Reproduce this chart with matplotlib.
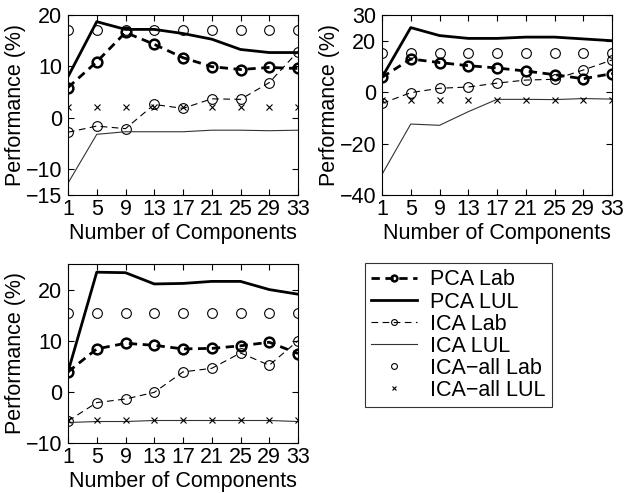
import matplotlib
matplotlib.use('Agg')
import matplotlib.pyplot as plt

plt.rcParams['font.family'] = ['Liberation Sans', 'DejaVu Sans']

comps = [1, 5, 9, 13, 17, 21, 25, 29, 33]

# panel 1 (top-left)
p1_pca_lab = [5.9, 10.9, 16.6, 14.3, 11.7, 9.95, 9.4, 9.8, 9.6]
p1_pca_lul = [8.0, 18.7, 17.2, 17.2, 16.4, 15.3, 13.3, 12.7, 12.7]
p1_ica_lab = [-2.8, -1.6, -2.1, 2.6, 1.85, 3.7, 3.6, 6.85, 12.9]
p1_ica_lul = [-12.7, -3.2, -2.7, -2.7, -2.7, -2.4, -2.4, -2.5, -2.4]
p1_all_lab = [17.1] * 9
p1_all_lul = [2.2] * 9

# panel 2 (top-right)
p2_pca_lab = [5.75, 12.9, 11.5, 10.3, 9.4, 8.2, 6.8, 5.2, 7.2]
p2_pca_lul = [5.75, 25.1, 22.0, 20.9, 20.9, 21.4, 21.4, 20.7, 20.0]
p2_ica_lab = [-4.4, -0.2, 1.5, 2.0, 3.5, 4.7, 5.0, 8.6, 12.5]
p2_ica_lul = [-32.0, -12.4, -12.9, -7.6, -2.8, -2.8, -2.9, -2.5, -2.7]
p2_all_lab = [15.3] * 9
p2_all_lul = [-3.1] * 9

# panel 3 (bottom-left)
p3_pca_lab = [3.9, 8.4, 9.5, 9.1, 8.4, 8.5, 9.0, 9.7, 7.5]
p3_pca_lul = [3.9, 23.4, 23.3, 21.1, 21.2, 21.6, 21.6, 20.0, 19.1]
p3_ica_lab = [-5.7, -2.1, -1.4, -0.1, 3.9, 4.6, 7.6, 5.2, 10.0]
p3_ica_lul = [-6.0, -5.8, -5.8, -5.6, -5.6, -5.6, -5.6, -5.6, -5.8]
p3_all_lab = [15.5] * 9
p3_all_lul = [-5.6] * 9

labels = ['PCA Lab', 'PCA LUL', 'ICA Lab', 'ICA LUL', 'ICA\u2212all Lab', 'ICA\u2212all LUL']

W, H = 625, 493
fig = plt.figure(figsize=(W / 100, H / 100), dpi=100)
FS = 15.5


def make_ax(x0, x1, y0, y1):
    return fig.add_axes([x0 / W, 1 - y1 / H, (x1 - x0) / W, (y1 - y0) / H])


def draw(ax, pl, pu, il, iu, al, au, ylim, yticks):
    h = []
    h += ax.plot(comps, pl, 'k--', lw=2.0, marker='o', ms=7, mfc='none', mew=1.8, dashes=(3, 2))
    h += ax.plot(comps, pu, 'k-', lw=2.0)
    h += ax.plot(comps, il, 'k--', lw=0.8, marker='o', ms=7, mfc='none', mew=0.8, dashes=(6, 4))
    h += ax.plot(comps, iu, '-', color='#333333', lw=0.8)
    h += ax.plot(comps, al, 'o', color='k', ms=7, mfc='none', mew=0.8, ls='none')
    h += ax.plot(comps, au, 'x', color='k', ms=4, mew=0.8, ls='none')
    ax.set_xlim(1, 33)
    ax.set_ylim(*ylim)
    ax.set_xticks(comps)
    ax.set_yticks(yticks)
    ax.tick_params(direction='in', top=True, right=True, length=4, labelsize=FS)
    ax.tick_params(axis='x', pad=3)
    ax.tick_params(axis='y', pad=4)
    ax.set_xlabel('Number of Components', fontsize=FS, labelpad=2)
    ax.set_ylabel('Performance (%)', fontsize=FS, labelpad=0)
    for s in ax.spines.values():
        s.set_linewidth(0.8)
    return h


ax1 = make_ax(68, 298, 15, 195)
handles = draw(ax1, p1_pca_lab, p1_pca_lul, p1_ica_lab, p1_ica_lul, p1_all_lab, p1_all_lul,
               (-15, 20), [-15, -10, 0, 10, 20])

ax2 = make_ax(382, 612, 15, 195)
draw(ax2, p2_pca_lab, p2_pca_lul, p2_ica_lab, p2_ica_lul, p2_all_lab, p2_all_lul,
     (-40, 30), [-40, -20, 0, 20, 30])

ax3 = make_ax(68, 298, 264, 443)
draw(ax3, p3_pca_lab, p3_pca_lul, p3_ica_lab, p3_ica_lul, p3_all_lab, p3_all_lul,
     (-10, 25), [-10, 0, 10, 20])

leg = fig.legend(handles, labels, loc='upper left',
                 bbox_to_anchor=(365 / W, 1 - 263 / H), fontsize=15.5,
                 frameon=True, fancybox=False, edgecolor='k', handlelength=2.1,
                 handletextpad=0.6, borderpad=0.3, labelspacing=0.05, markerscale=0.6,
                 borderaxespad=0)
leg.get_frame().set_linewidth(0.8)

fig.savefig('out.png', dpi=100)
